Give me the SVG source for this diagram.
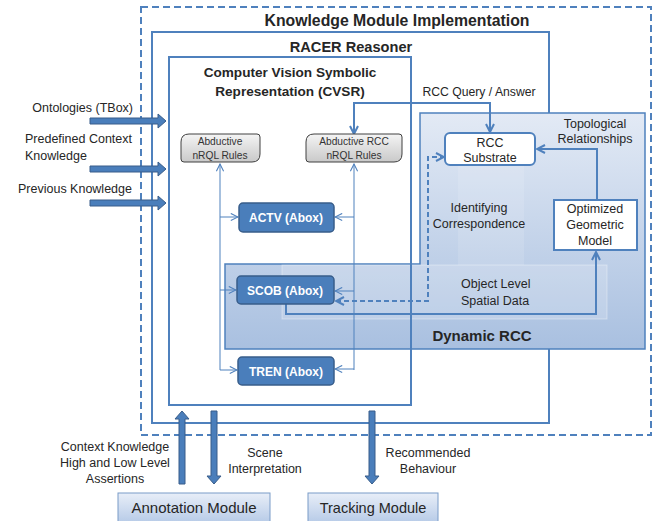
<svg xmlns="http://www.w3.org/2000/svg" width="653" height="521" viewBox="0 0 653 521">
<defs>
<linearGradient id="panel" x1="0" y1="0" x2="0" y2="1">
<stop offset="0" stop-color="#e3eaf5"/>
<stop offset="1" stop-color="#a9c0e0"/>
</linearGradient>
<linearGradient id="gray" x1="0" y1="0" x2="0" y2="1">
<stop offset="0" stop-color="#f4f4f4"/>
<stop offset="1" stop-color="#c9c9c9"/>
</linearGradient>
<linearGradient id="mod" x1="0" y1="0" x2="0" y2="1">
<stop offset="0" stop-color="#e8eef8"/>
<stop offset="1" stop-color="#b3c8e6"/>
</linearGradient>
<marker id="open" viewBox="0 0 10 10" refX="9" refY="5" markerWidth="9" markerHeight="9" markerUnits="userSpaceOnUse" orient="auto-start-reverse">
<path d="M1,1 L9,5 L1,9" fill="none" stroke="#4f81bd" stroke-width="1.2"/>
</marker>
<marker id="open2" viewBox="0 0 10 10" refX="9" refY="5" markerWidth="10" markerHeight="10" markerUnits="userSpaceOnUse" orient="auto-start-reverse">
<path d="M1,1 L9,5 L1,9" fill="none" stroke="#4f81bd" stroke-width="2"/>
</marker>
</defs>
<style>
text{font-family:"Liberation Sans",Arial,sans-serif;fill:#262626}
.b{font-weight:bold}
.box{fill:none;stroke:#4f81bd;stroke-width:2}
.abox{fill:#4a7ebb;stroke:#385d8a;stroke-width:1.5}
.at{fill:#fff;font-weight:bold;font-size:12px;text-anchor:middle}
.rule{fill:url(#gray);stroke:#404040;stroke-width:1}
.rt{font-size:10.2px;text-anchor:middle;fill:#333}
.thin{fill:none;stroke:#4f81bd;stroke-width:1;marker-end:url(#open)}
.thick{fill:none;stroke:#4f81bd;stroke-width:2}
.blk{fill:#4a7ebb;stroke:#385d8a;stroke-width:1}
.lab{font-size:12.5px}
.in{font-size:12.5px}
.mid{text-anchor:middle}
</style>

<!-- containers -->
<g id="knowledge-module">
<rect x="141" y="7" width="510" height="428" fill="#fff" stroke="#4f81bd" stroke-width="2" stroke-dasharray="7,4"/>
<text x="397" y="26" class="b mid" font-size="15.8px">Knowledge Module Implementation</text>
</g>
<g id="racer">
<rect x="152" y="32" width="397" height="391" class="box"/>
<text x="351" y="52" class="b mid" font-size="14.6px">RACER Reasoner</text>
</g>
<g id="dynamic-rcc">
<path d="M225,264 L420,264 L420,113 L645,113 L645,349 L225,349 Z" fill="url(#panel)" stroke="#4f81bd" stroke-width="1.5"/>
<rect x="282" y="265" width="325" height="54" fill="#ffffff" fill-opacity="0.18" stroke="#ffffff" stroke-opacity="0.35"/>
<rect x="458" y="165" width="66" height="100" fill="#ffffff" fill-opacity="0.12"/>
<text x="482" y="341" class="b mid" font-size="15px">Dynamic RCC</text>
<text x="461" y="288" class="in">Object Level</text>
<text x="461" y="305" class="in">Spatial Data</text>
<text x="595" y="128" class="mid in">Topological</text>
<text x="595" y="143" class="mid in">Relationships</text>
<text x="479" y="212" class="mid in">Identifying</text>
<text x="479" y="228" class="mid in">Correspondence</text>
</g>
<g id="cvsr">
<rect x="169" y="57" width="242" height="348" class="box"/>
<text x="290" y="77" class="b mid" font-size="13.6px">Computer Vision Symbolic</text>
<text x="290" y="96" class="b mid" font-size="13.6px">Representation (CVSR)</text>
</g>

<!-- connectors -->
<g id="connectors">
<!-- RCC query -->
<text x="479" y="96" class="mid" font-size="12.2px">RCC Query / Answer</text>
<path d="M354,134 L354,103 L490,103 L490,132" class="thick" marker-start="url(#open2)" marker-end="url(#open2)"/>
<!-- Optimized -> RCC substrate -->
<path d="M597,200 L597,149 L537,149" class="thick" marker-end="url(#open2)"/>
<!-- SCOB -> Optimized -->
<path d="M286,304 L286,314 L596,314 L596,252" class="thick" marker-end="url(#open2)"/>
<!-- dashed SCOB <-> RCC substrate -->
<path d="M336,301 L428,301 L428,157 L444,157" fill="none" stroke="#4f81bd" stroke-width="2" stroke-dasharray="5,3" marker-start="url(#open2)" marker-end="url(#open2)"/>
<!-- left bus -->
<path d="M220,370 L220,164" class="thin"/>
<path d="M220,217 L238,217" class="thin"/>
<path d="M220,290 L236,290" class="thin"/>
<path d="M220,370 L237,370" class="thin"/>
<!-- right bus -->
<path d="M354,370 L354,164" class="thin"/>
<path d="M354,217 L335,217" class="thin"/>
<path d="M354,291 L335,291" class="thin"/>
<path d="M354,369 L335,369" class="thin"/>
<!-- left inputs -->
<path d="M90,118 L158,118 L158,114 L166,121 L158,128 L158,124 L90,124 Z" class="blk"/>
<path d="M90,166 L158,166 L158,162 L166,169 L158,176 L158,172 L90,172 Z" class="blk"/>
<path d="M90,200 L158,200 L158,196 L166,203 L158,210 L158,206 L90,206 Z" class="blk"/>
<!-- bottom arrows -->
<path d="M179,484 L179,419 L175,419 L182,411 L189,419 L185,419 L185,484 Z" class="blk"/>
<path d="M211,411 L211,476 L207,476 L214,484 L221,476 L217,476 L217,411 Z" class="blk"/>
<path d="M369,411 L369,476 L365,476 L372,484 L379,476 L375,476 L375,411 Z" class="blk"/>
<text x="133" y="112" class="lab" text-anchor="end">Ontologies (TBox)</text>
<text x="25" y="143" class="lab">Predefined Context</text>
<text x="25" y="160" class="lab">Knowledge</text>
<text x="18" y="193" class="lab">Previous Knowledge</text>
<text x="115" y="451" class="lab mid">Context Knowledge</text>
<text x="115" y="467" class="lab mid">High and Low Level</text>
<text x="115" y="483" class="lab mid">Assertions</text>
<text x="265" y="457" class="lab mid">Scene</text>
<text x="265" y="473" class="lab mid">Interpretation</text>
<text x="428" y="457" class="lab mid">Recommended</text>
<text x="428" y="473" class="lab mid">Behaviour</text>
</g>

<!-- nodes -->
<g id="abductive-nrql">
<path d="M189,134 L257,134 Q260,134 260,137 L260,154 Q260,162 252,162 L184,162 Q181,162 181,159 L181,142 Q181,134 189,134 Z" class="rule"/>
<text x="220" y="145" class="rt">Abductive</text>
<text x="220" y="159" class="rt">nRQL Rules</text>
</g>
<g id="abductive-rcc">
<path d="M314,134 L399,134 Q402,134 402,137 L402,154 Q402,162 394,162 L309,162 Q306,162 306,159 L306,142 Q306,134 314,134 Z" class="rule"/>
<text x="354" y="145" class="rt">Abductive RCC</text>
<text x="354" y="159" class="rt">nRQL Rules</text>
</g>
<g id="actv">
<rect x="239" y="203" width="95" height="29" rx="4" class="abox"/>
<text x="286" y="222" class="at">ACTV (Abox)</text>
</g>
<g id="scob">
<rect x="237" y="276" width="97" height="28" rx="4" class="abox"/>
<text x="285" y="295" class="at">SCOB (Abox)</text>
</g>
<g id="tren">
<rect x="238" y="357" width="96" height="28" rx="4" class="abox"/>
<text x="286" y="376" class="at">TREN (Abox)</text>
</g>
<g id="rcc-substrate">
<rect x="445" y="133" width="90" height="32" rx="5" fill="#fff" stroke="#4f81bd" stroke-width="2"/>
<text x="490" y="147" class="mid in">RCC</text>
<text x="490" y="162" class="mid in">Substrate</text>
</g>
<g id="optimized-geometric-model">
<rect x="554" y="200" width="83" height="50" fill="#fff" stroke="#4f81bd" stroke-width="2"/>
<text x="595" y="213" class="mid in">Optimized</text>
<text x="595" y="229" class="mid in">Geometric</text>
<text x="595" y="245" class="mid in">Model</text>
</g>
<g id="annotation-module">
<rect x="118" y="493" width="152" height="32" fill="url(#mod)" stroke="#7a9cc8" stroke-width="1"/>
<text x="194" y="513" class="mid" font-size="15px">Annotation Module</text>
</g>
<g id="tracking-module">
<rect x="308" y="493" width="130" height="32" fill="url(#mod)" stroke="#7a9cc8" stroke-width="1"/>
<text x="373" y="513" class="mid" font-size="14.5px">Tracking Module</text>
</g>
</svg>
